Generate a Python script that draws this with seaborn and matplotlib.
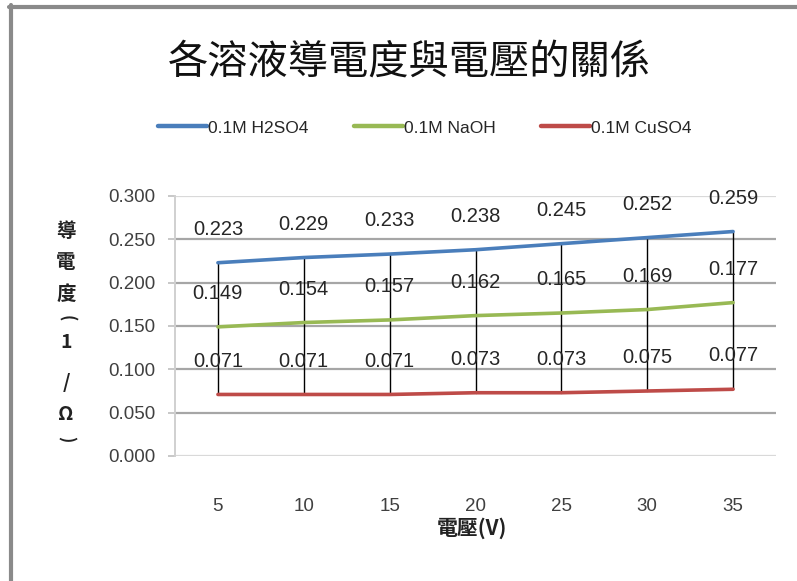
import matplotlib
matplotlib.use("Agg")
import matplotlib.pyplot as plt
from matplotlib.lines import Line2D
import seaborn as sns
import pandas as pd

# Data
voltages = [5, 10, 15, 20, 25, 30, 35]
h2so4 = [0.223, 0.229, 0.233, 0.238, 0.245, 0.252, 0.259]
naoh = [0.149, 0.154, 0.157, 0.162, 0.165, 0.169, 0.177]
cuso4 = [0.071, 0.071, 0.071, 0.073, 0.073, 0.075, 0.077]
series_names = ["0.1M H2SO4", "0.1M NaOH", "0.1M CuSO4"]
y_ticks = [0.0, 0.05, 0.10, 0.15, 0.20, 0.25, 0.30]

title = "各溶液導電度與電壓的關係"
x_label = "電壓(V)"
# Vertical axis title, one glyph per row; brackets are turned sideways
y_label_chars = ["導", "電", "度", "(", "1", "/", "Ω", ")"]
y_label_rot = [0, 0, 0, -90, 0, 0, 0, -90]

colors = ["#4A7EBB", "#98B954", "#BE4B48"]

sns.set_theme(style="white")
cjk = ["Noto Sans CJK TC", "DejaVu Sans"]
latin = ["Liberation Sans", "DejaVu Sans"]
plt.rcParams["font.family"] = cjk

pos = list(range(len(voltages)))
frames = []
for name, vals in zip(series_names, [h2so4, naoh, cuso4]):
    frames.append(pd.DataFrame({"pos": pos, "value": vals, "series": name}))
df = pd.concat(frames, ignore_index=True)

fig = plt.figure(figsize=(7.97, 5.81), dpi=100)
ax = fig.add_axes([175 / 797, 1 - 456 / 581, 601 / 797, 260 / 581])

# Horizontal gridlines
for yv in y_ticks:
    c = "#d9d9d9" if yv in (0.0, 0.30) else "#a6a6a6"
    ax.axhline(yv, color=c, lw=1.6, zorder=0)

# High-low lines linking the top and bottom series at each voltage
for p in pos:
    ax.plot([p, p], [cuso4[p], h2so4[p]], color="black", lw=1.0, zorder=1)

sns.lineplot(data=df, x="pos", y="value", hue="series", palette=colors,
             linewidth=2.6, legend=False, ax=ax, zorder=3)

# Data labels
for vals in [h2so4, naoh, cuso4]:
    for p, v in zip(pos, vals):
        ax.annotate(f"{v:.3f}", (p, v), xytext=(0, 24), textcoords="offset points",
                    ha="center", va="center", fontsize=14.5, family=latin,
                    color="#262626", zorder=4)

ax.set_xlim(-0.5, len(voltages) - 0.5)
ax.set_ylim(0, 0.30)
ax.set_xticks(pos)
ax.set_xticklabels([str(v) for v in voltages], family=latin, fontsize=13.5, color="#404040")
ax.set_yticks(y_ticks)
ax.set_yticklabels([f"{t:.3f}" for t in y_ticks], family=latin, fontsize=13.5, color="#404040")
ax.tick_params(axis="x", length=0, pad=30)
ax.tick_params(axis="y", length=5, width=1.2, color="#bfbfbf", pad=9, left=True)
for side in ["top", "right", "bottom"]:
    ax.spines[side].set_visible(False)
ax.spines["left"].set_color("#d0d0d0")
ax.spines["left"].set_linewidth(1.4)
ax.set_xlabel("")
ax.set_ylabel("")

# Title
fig.text(409 / 797, 1 - 62 / 581, title, ha="center", va="center",
         fontsize=29, fontweight="light", color="#111111", family=cjk)

# Legend
handles = [Line2D([0], [0], color=c, lw=3.2) for c in colors]
fig.legend(handles, series_names, loc="center", bbox_to_anchor=(425 / 797, 1 - 128 / 581),
           ncol=3, frameon=False, prop={"family": latin, "size": 12.5},
           handlelength=2.8, handletextpad=0.1, columnspacing=2.6)

# Axis titles
fig.text(472 / 797, 1 - 528 / 581, x_label, ha="center", va="center",
         fontsize=15, fontweight="bold", color="#222222", family=cjk)
y_positions = [232, 262, 294, 318, 343, 382, 415, 439]
for ch, yp, rot in zip(y_label_chars, y_positions, y_label_rot):
    fig.text(66 / 797, 1 - yp / 581, ch, ha="center", va="center", rotation=rot,
             fontsize=14 if rot == 0 else 12, fontweight="bold", color="#222222",
             family=cjk)

# Frame edges along the top and left
fig.add_artist(Line2D([9 / 797, 1.0], [1 - 7 / 581, 1 - 7 / 581],
                      color="#8a8a8a", lw=3, transform=fig.transFigure))
fig.add_artist(Line2D([11 / 797, 11 / 797], [0.0, 1 - 5 / 581],
                      color="#8a8a8a", lw=3, transform=fig.transFigure))

fig.savefig("out.png", dpi=100)
